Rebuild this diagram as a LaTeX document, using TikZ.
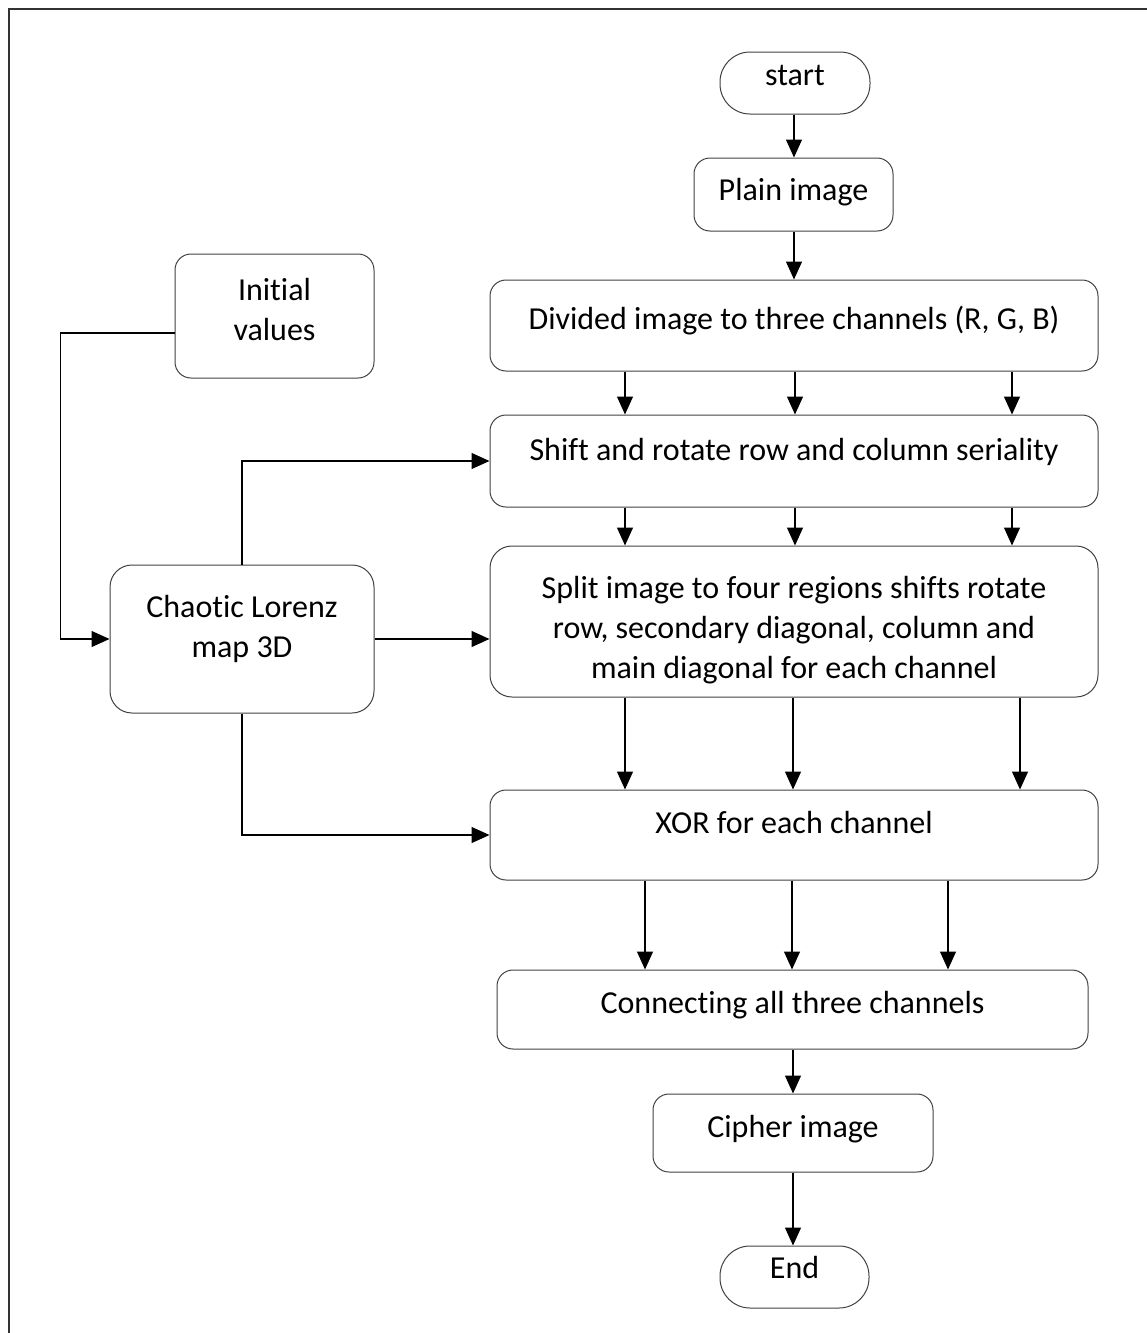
\documentclass[tikz,border=0pt]{standalone}
\usepackage{fontspec}
\setmainfont{Carlito}[Ligatures={NoCommon}]
\usetikzlibrary{arrows.meta,calc}
\begin{document}
\begin{tikzpicture}[x=1pt,y=-1pt,
  box/.style={draw=black!75, line width=1pt, rounded corners=16pt, inner sep=0pt},
  bigbox/.style={box, rounded corners=22pt},
  term/.style={draw=black!75, line width=1pt, rounded corners=30pt, inner sep=0pt},
  txt/.style={font=\fontsize{32}{40}\selectfont, inner sep=0pt, anchor=base, align=center},
  arr/.style={draw=black, line width=1.3pt, -{Triangle[length=18pt,width=16pt]}},
  ln/.style={draw=black, line width=1.3pt}]
\useasboundingbox (0,0) rectangle (1146,1333);
\draw[line width=2pt, black!80] (9,1345) -- (9,9) -- (1155,9);

% boxes
\node[term, minimum width=150pt, minimum height=62pt] (start) at (795,83) {};
\node[box, minimum width=199pt, minimum height=73pt] (plain) at (793.5,194.5) {};
\node[box, minimum width=608pt, minimum height=91pt] (divided) at (794,325.5) {};
\node[box, minimum width=608pt, minimum height=92pt] (shift) at (794,461) {};
\node[bigbox, minimum width=608pt, minimum height=151pt] (split) at (794,621.5) {};
\node[box, minimum width=608pt, minimum height=90pt] (xor) at (794,835) {};
\node[box, minimum width=591pt, minimum height=79pt] (conn) at (792.5,1009.5) {};
\node[box, minimum width=280pt, minimum height=78pt] (cipher) at (793,1133) {};
\node[term, minimum width=149pt, minimum height=62pt] (end) at (794.5,1277) {};
\node[box, minimum width=199pt, minimum height=124pt] (initial) at (274.5,316) {};
\node[bigbox, minimum width=264pt, minimum height=148pt] (chaotic) at (242,639) {};

% texts (base = baseline of the last line)
\node[txt] (tstart) at (795,85) {start};
\node[txt] (tplain) at (793.5,200) {Plain image};
\node[txt] (tdivided) at (794,329) {Divided image to three channels (R, G, B)};
\node[txt] (tshift) at (794,460) {Shift and rotate row and column seriality};
\node[txt] (tsplit) at (794,678) {Split image to four regions shifts rotate\\row, secondary diagonal, column and\\main diagonal for each channel};
\node[txt] (txor) at (794,833) {XOR for each channel};
\node[txt] (tconn) at (792.5,1013) {Connecting all three channels};
\node[txt] (tcipher) at (793,1137) {Cipher image};
\node[txt] (tend) at (794.5,1278) {End};
\node[txt] (tinitial) at (274.5,340) {Initial\\values};
\node[txt] (tchaotic) at (242,657) {Chaotic Lorenz\\map 3D};

% column coordinates
\coordinate (cm) at (794,0);
\coordinate (a1) at (625,0);
\coordinate (a2) at (795,0);
\coordinate (a3) at (1012,0);
\coordinate (b1) at (625,0);
\coordinate (b2) at (793,0);
\coordinate (b3) at (1020,0);
\coordinate (d1) at (645,0);
\coordinate (d2) at (792,0);
\coordinate (d3) at (948,0);

% main flow
\draw[arr] (start.south -| cm) -- (plain.north -| cm);
\draw[arr] (plain.south -| cm) -- (divided.north -| cm);
\foreach \c in {a1,a2,a3} {
  \draw[arr] (divided.south -| \c) -- (shift.north -| \c);
  \draw[arr] (shift.south -| \c) -- (split.north -| \c);
}
\foreach \c in {b1,b2,b3} \draw[arr] (split.south -| \c) -- (xor.north -| \c);
\foreach \c in {d1,d2,d3} \draw[arr] (xor.south -| \c) -- (conn.north -| \c);
\draw[arr] (conn.south -| b2) -- (cipher.north -| b2);
\draw[arr] (cipher.south -| b2) -- (end.north -| b2);

% left side
\draw[arr] ($(initial.west)+(0,17)$) -- ++(-114,0) |- (chaotic.west);
\draw[arr] (chaotic.north) |- (shift.west);
\draw[arr] (chaotic.east) -- (chaotic.east -| split.west);
\draw[arr] (chaotic.south) |- (xor.west);
\end{tikzpicture}
\end{document}
